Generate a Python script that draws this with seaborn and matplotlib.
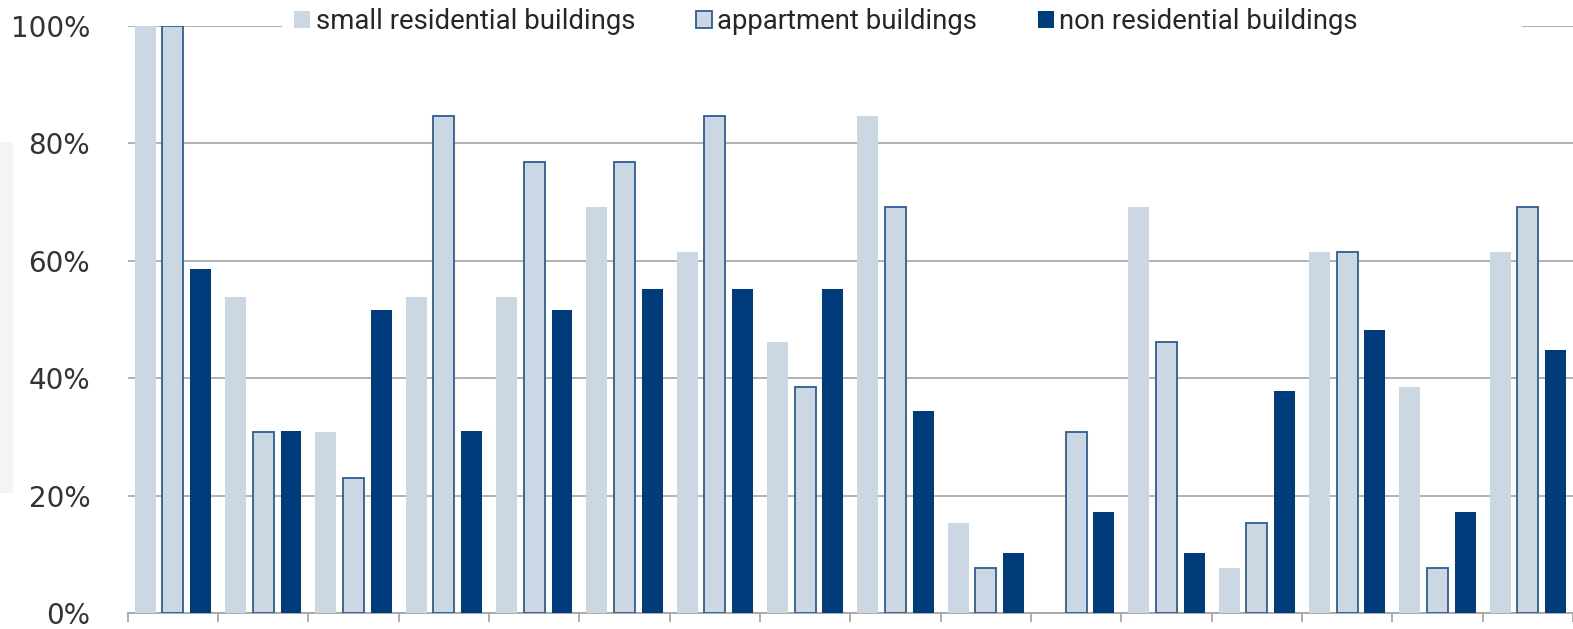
import numpy as np
import pandas as pd
import matplotlib
matplotlib.use("Agg")
import matplotlib.pyplot as plt
from matplotlib.patches import Patch, Rectangle
import seaborn as sns

groups = [f"G{i+1}" for i in range(16)]
series = ["small residential buildings", "appartment buildings", "non residential buildings"]
small_res = [100, 53.8, 30.8, 53.8, 53.8, 69.2, 61.5, 46.2, 84.6, 15.4, 0, 69.2, 7.7, 61.5, 38.5, 61.5]
appart = [100, 30.8, 23.1, 84.6, 76.9, 76.9, 84.6, 38.5, 69.2, 7.7, 30.8, 46.2, 15.4, 61.5, 7.7, 69.2]
non_res = [58.6, 31.0, 51.7, 31.0, 51.7, 55.2, 55.2, 55.2, 34.5, 10.3, 17.2, 10.3, 37.9, 48.3, 17.2, 44.8]
yticks = [0, 20, 40, 60, 80, 100]
ytick_labels = ["0%", "20%", "40%", "60%", "80%", "100%"]

light = "#cbd8e4"
edge_blue = "#2c5d96"
dark = "#003b7b"
grid_gray = "#a6a6a6"

df = pd.DataFrame({
    "group": groups * 3,
    "series": [series[0]] * 16 + [series[1]] * 16 + [series[2]] * 16,
    "value": small_res + appart + non_res,
})

sns.set_style("white")
plt.rcParams["font.family"] = ["DejaVu Sans"]

fig = plt.figure(figsize=(15.73, 6.29), dpi=100)
ax = fig.add_axes([127.7 / 1573, 1 - 613.3 / 629, 1 - 127.7 / 1573, (613.3 - 25.8) / 629])

sns.barplot(data=df, x="group", y="value", hue="series", hue_order=series,
            palette=[light, light, dark], saturation=1, width=0.92, gap=0.25, linewidth=0,
            ax=ax, legend=False, zorder=3)

for bar in ax.containers[1]:
    bar.set_edgecolor(edge_blue)
    bar.set_linewidth(1.3)

ax.set_xlim(-0.5, 15.5)
ax.set_ylim(0, 100)
ax.set_xlabel("")
ax.set_ylabel("")

ax.set_yticks(yticks)
ax.set_yticklabels(ytick_labels)
ax.tick_params(axis="y", length=0, pad=27, labelsize=20, labelcolor="#333333")
ax.set_xticks(np.arange(-0.5, 16, 1))
ax.set_xticklabels([])
ax.tick_params(axis="x", length=6.5, width=1.3, color=grid_gray, direction="out", bottom=True)

ax.yaxis.grid(True, color=grid_gray, linewidth=1.2, zorder=0)
ax.set_axisbelow(True)
for s in ["top", "right", "left"]:
    ax.spines[s].set_visible(False)
ax.spines["bottom"].set_color(grid_gray)
ax.spines["bottom"].set_linewidth(1.3)

# white legend area covering the top gridline
fig.add_artist(Rectangle((282 / 1573, 1 - 38 / 629), (1522 - 282) / 1573, 30 / 629,
                         transform=fig.transFigure, facecolor="white", edgecolor="none", zorder=2))

handles = [
    Patch(facecolor=light, edgecolor="none"),
    Patch(facecolor=light, edgecolor=edge_blue, linewidth=1.3),
    Patch(facecolor=dark, edgecolor="none"),
]
leg = fig.legend(handles, series, loc="center", bbox_to_anchor=(826 / 1573, 1 - 21.5 / 629),
                 ncol=3, frameon=False,
                 prop={"family": ["Roboto"], "size": 19.8},
                 handlelength=0.58, handleheight=0.58, handletextpad=0.2, columnspacing=2.2,
                 borderpad=0, borderaxespad=0)
leg.set_zorder(3)
for t in leg.get_texts():
    t.set_color("#262626")

fig.add_artist(Rectangle((0, 1 - 493 / 629), 13 / 1573, (493 - 141.7) / 629,
                         transform=fig.transFigure, facecolor="#f4f4f4", edgecolor="none", zorder=0))

fig.savefig("out.png", dpi=100)
